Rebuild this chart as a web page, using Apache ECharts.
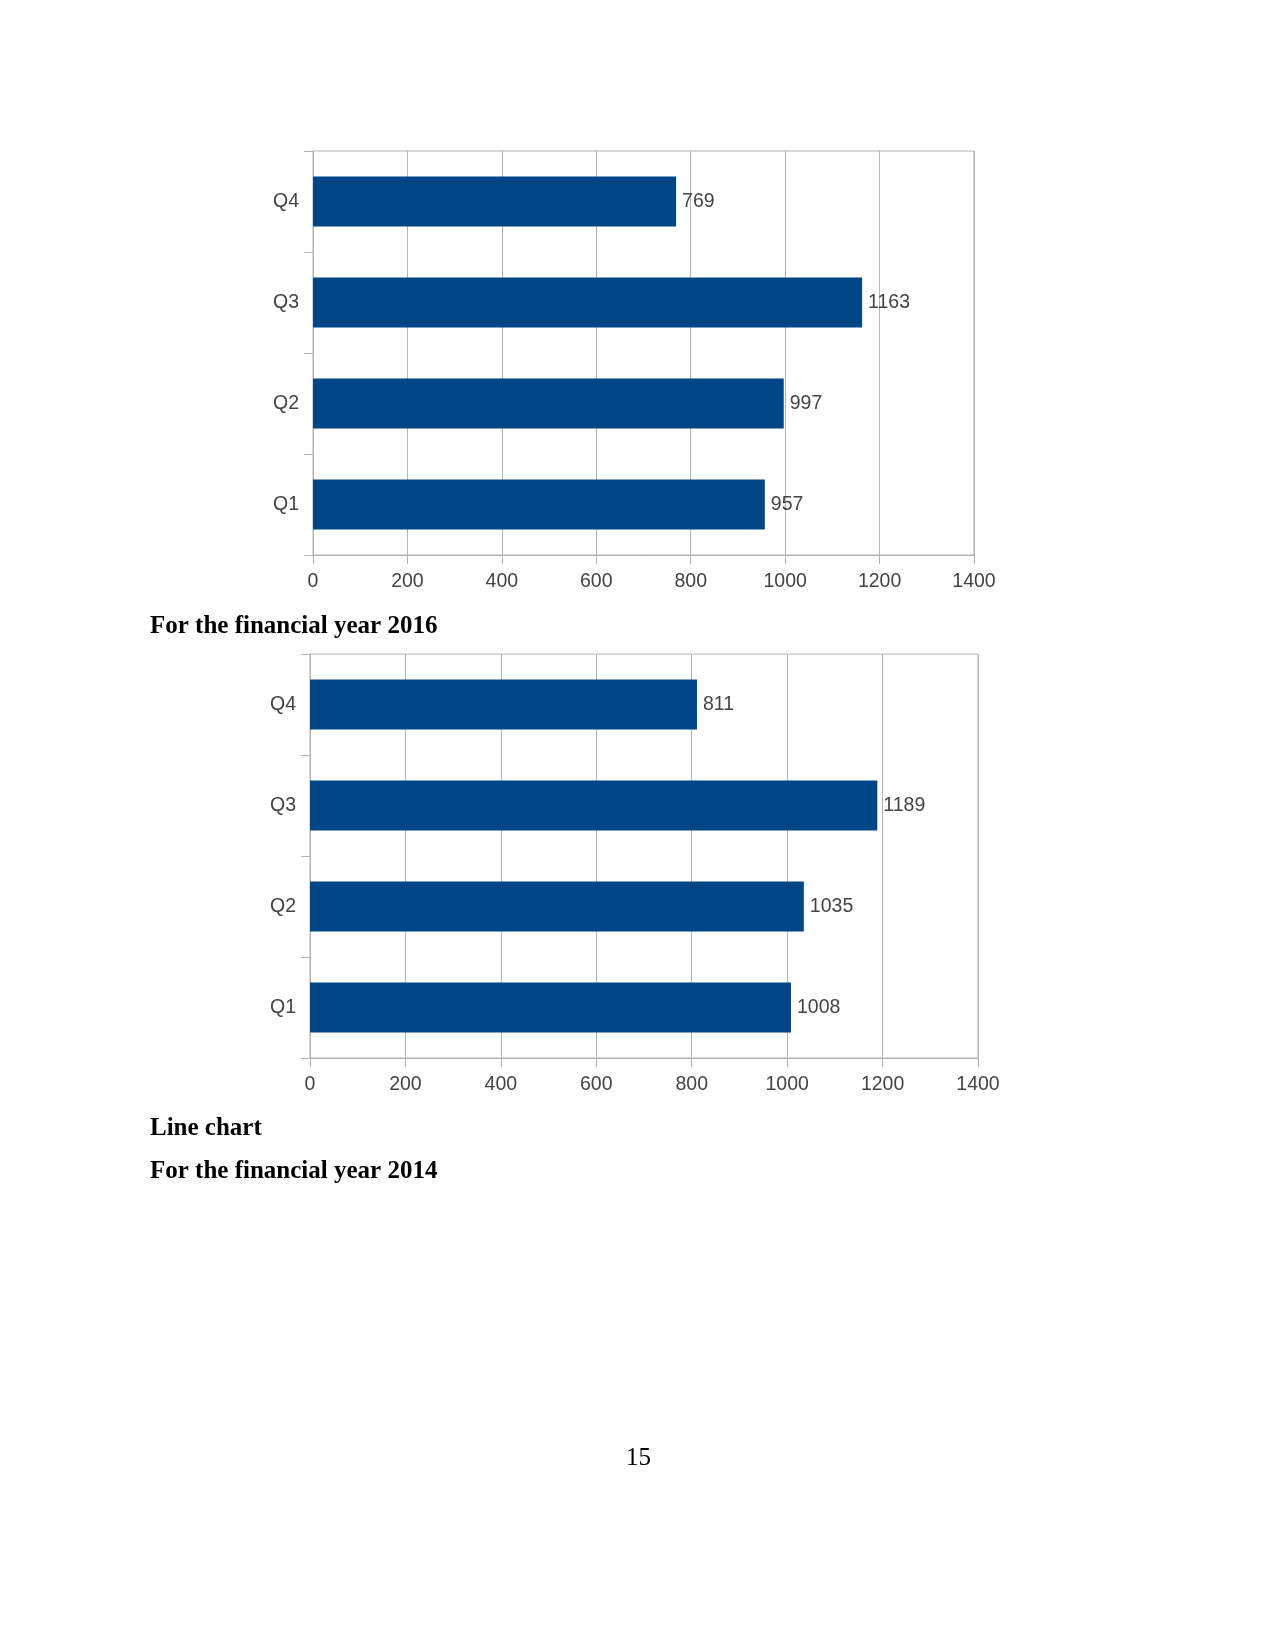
<!DOCTYPE html>
<html><head><meta charset="utf-8">
<script src="https://cdn.jsdelivr.net/npm/echarts@6/dist/echarts.min.js"></script>
<style>html,body{margin:0;padding:0;background:#fff}#c{width:1275px;height:1650px}</style>
</head><body><div id="c"></div>
<script>
const categories = ['Q1', 'Q2', 'Q3', 'Q4'];
const values2016 = [957, 997, 1163, 769];
const values2014 = [1008, 1035, 1189, 811];
const xTicks = [0, 200, 400, 600, 800, 1000, 1200, 1400];

const grey = '#b3b3b3';
const txt = '#444444';
const font = 'Liberation Sans';
const fs = 19.5;

function xAx(i) {
  return {
    type: 'value', gridIndex: i, min: xTicks[0], max: xTicks[xTicks.length - 1], interval: xTicks[1] - xTicks[0],
    axisLine: { show: true, lineStyle: { color: grey } },
    axisTick: { show: true, length: 9, lineStyle: { color: grey } },
    splitLine: { show: true, lineStyle: { color: grey } },
    axisLabel: { color: txt, fontFamily: font, fontSize: fs, margin: 17, formatter: v => String(v) }
  };
}
function yAx(i) {
  return {
    type: 'category', gridIndex: i, data: categories,
    axisLine: { show: true, lineStyle: { color: grey } },
    axisTick: { show: true, length: 9, lineStyle: { color: grey } },
    axisLabel: { color: txt, fontFamily: font, fontSize: fs, margin: 14 }
  };
}
function ser(i, vals) {
  return {
    type: 'bar', xAxisIndex: i, yAxisIndex: i, data: vals, barWidth: '49.5%',
    itemStyle: { color: '#004586' },
    label: { show: true, position: 'right', distance: 6, color: txt, fontFamily: font, fontSize: fs }
  };
}
const chart = echarts.init(document.getElementById('c'), null, { renderer: 'canvas' });
chart.setOption({
  animation: false,
  grid: [
    { left: 313, top: 151, width: 661, height: 404, show: true, borderColor: grey, borderWidth: 1 },
    { left: 310, top: 654, width: 668, height: 404, show: true, borderColor: grey, borderWidth: 1 }
  ],
  xAxis: [xAx(0), xAx(1)],
  yAxis: [yAx(0), yAx(1)],
  series: [ser(0, values2016), ser(1, values2014)],
  graphic: [
    { type: 'text', left: 150, top: 614, style: { text: 'For the financial year 2016', font: 'bold 25px "Liberation Serif"', fill: '#000' } },
    { type: 'text', left: 150, top: 1116, style: { text: 'Line chart', font: 'bold 25px "Liberation Serif"', fill: '#000' } },
    { type: 'text', left: 150, top: 1159, style: { text: 'For the financial year 2014', font: 'bold 25px "Liberation Serif"', fill: '#000' } },
    { type: 'text', left: 626, top: 1446, style: { text: '15', font: '25px "Liberation Serif"', fill: '#000' } }
  ]
});
</script></body></html>
